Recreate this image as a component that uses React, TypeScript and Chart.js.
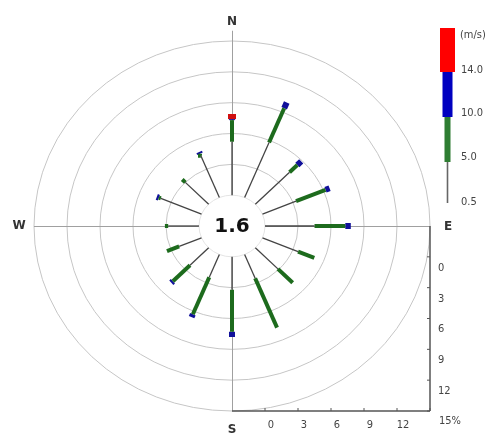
import React, { useEffect, useRef } from 'react';
import { Chart, registerables } from 'chart.js';
Chart.register(...registerables);

// 16 compass directions, clockwise from North
const directions = ['N', 'NNE', 'NE', 'ENE', 'E', 'ESE', 'SE', 'SSE', 'S', 'SSW', 'SW', 'WSW', 'W', 'WNW', 'NW', 'NNW'];
const calmPct = 1.6;
// frequency (%) per speed class
const speed05to5 = [5.2, 5.8, 4.4, 3.3, 4.5, 3.5, 2.9, 2.5, 3.2, 2.4, 2.4, 2.2, 2.8, 4.0, 3.0, 4.4];
const speed5to10 = [2.1, 3.6, 1.0, 2.9, 2.8, 1.6, 1.9, 5.2, 4.1, 3.9, 2.2, 1.2, 0.3, 0.2, 0.4, 0.2];
const speed10to14 = [0.1, 0.6, 0.5, 0.4, 0.5, 0, 0, 0, 0.5, 0.3, 0.2, 0, 0, 0.2, 0, 0.2];
const speedOver14 = [0.5, 0, 0, 0, 0, 0, 0, 0, 0, 0, 0, 0, 0, 0, 0, 0];
const ringTicks = [0, 3, 6, 9, 12, 15];
const speedBoundLabels = ['14.0', '10.0', '5.0', '0.5'];
const speedUnit = '(m/s)';

const CALM_OFFSET = 3; // calm circle radius in % units
const RMAX = 18;

const classStyles = [
  { color: '#444444', width: 1.3 },
  { color: '#1d6b1d', width: 4 },
  { color: '#10109a', width: 6 },
  { color: '#d01010', width: 8 },
];

function buildDatasets() {
  const classes = [speed05to5, speed5to10, speed10to14, speedOver14];
  const ds: any[] = [];
  directions.forEach((_, i) => {
    const th = (i * 22.5 * Math.PI) / 180;
    let cum = 0;
    classes.forEach((arr, c) => {
      const v = arr[i];
      if (v <= 0) return;
      const r0 = CALM_OFFSET + cum;
      const r1 = CALM_OFFSET + cum + v;
      cum += v;
      ds.push({
        data: [
          { x: r0 * Math.sin(th), y: r0 * Math.cos(th) },
          { x: r1 * Math.sin(th), y: r1 * Math.cos(th) },
        ],
        showLine: true,
        borderColor: classStyles[c].color,
        backgroundColor: classStyles[c].color,
        borderWidth: classStyles[c].width,
        borderCapStyle: 'butt',
        pointRadius: 0,
        pointHoverRadius: 0,
        clip: false,
      });
    });
  });
  return ds;
}

const rosePlugin = {
  id: 'rose',
  beforeDatasetsDraw(chart: any) {
    const { ctx } = chart;
    const xs = chart.scales.x;
    const ys = chart.scales.y;
    const cx = xs.getPixelForValue(0);
    const cy = ys.getPixelForValue(0);
    const rx = (v: number) => xs.getPixelForValue(v) - cx;
    const ry = (v: number) => cy - ys.getPixelForValue(v);
    ctx.save();
    ctx.strokeStyle = '#c6c6c6';
    ctx.lineWidth = 1;
    ringTicks.forEach((t) => {
      if (t === 0) return;
      const r = t + CALM_OFFSET;
      ctx.beginPath();
      ctx.ellipse(cx, cy, rx(r), ry(r), 0, 0, Math.PI * 2);
      ctx.stroke();
    });
    // cross lines
    ctx.strokeStyle = '#a0a0a0';
    ctx.beginPath();
    ctx.moveTo(xs.getPixelForValue(-RMAX), cy + 0.5);
    ctx.lineTo(xs.getPixelForValue(RMAX), cy + 0.5);
    ctx.moveTo(cx + 0.5, ys.getPixelForValue(RMAX + 1));
    ctx.lineTo(cx + 0.5, ys.getPixelForValue(-RMAX));
    ctx.stroke();
    // calm circle
    ctx.fillStyle = '#ffffff';
    ctx.strokeStyle = '#e4e4e4';
    ctx.beginPath();
    ctx.ellipse(cx, cy, rx(CALM_OFFSET), ry(CALM_OFFSET), 0, 0, Math.PI * 2);
    ctx.fill();
    ctx.stroke();
    ctx.restore();
  },
  afterDatasetsDraw(chart: any) {
    const { ctx } = chart;
    const xs = chart.scales.x;
    const ys = chart.scales.y;
    const cx = xs.getPixelForValue(0);
    const cy = ys.getPixelForValue(0);
    ctx.save();
    // calm value
    ctx.fillStyle = '#111';
    ctx.font = 'bold 20px "DejaVu Sans"';
    ctx.textAlign = 'center';
    ctx.textBaseline = 'middle';
    ctx.fillText(calmPct.toFixed(1), cx, cy + 1);
    // compass letters
    ctx.fillStyle = '#333';
    ctx.font = 'bold 12px "DejaVu Sans"';
    ctx.fillText('N', cx, ys.getPixelForValue(RMAX) - 19);
    ctx.fillText('S', cx, ys.getPixelForValue(-RMAX) + 19);
    ctx.fillText('W', xs.getPixelForValue(-RMAX) - 15, cy);
    ctx.fillText('E', xs.getPixelForValue(RMAX) + 18, cy + 1);

    // axes (percentage scales)
    const xr = xs.getPixelForValue(RMAX);
    const yb = ys.getPixelForValue(-RMAX);
    ctx.strokeStyle = '#555';
    ctx.lineWidth = 1.5;
    ctx.beginPath();
    ctx.moveTo(cx, yb);
    ctx.lineTo(xr, yb);
    ctx.moveTo(xr, cy);
    ctx.lineTo(xr, yb);
    ctx.stroke();
    ctx.lineWidth = 1;
    ctx.font = '11px "DejaVu Sans Condensed", "DejaVu Sans"';
    ctx.fillStyle = '#444';
    ringTicks.forEach((t) => {
      const px = xs.getPixelForValue(t + CALM_OFFSET);
      const py = ys.getPixelForValue(-(t + CALM_OFFSET));
      ctx.beginPath();
      ctx.moveTo(px, yb);
      ctx.lineTo(px, yb - 3);
      ctx.moveTo(xr, py);
      ctx.lineTo(xr - 3, py);
      ctx.stroke();
      if (t < 15) {
        ctx.textAlign = 'center';
        ctx.fillText(String(t), px + 6, yb + 14);
        ctx.textAlign = 'left';
        ctx.fillText(String(t), xr + 8, py + 11);
      } else {
        ctx.textAlign = 'center';
        ctx.fillText(t + '%', xr + 20, yb + 10);
      }
    });

    // speed legend bar
    const lx = 447.5;
    const segs = [
      { y0: 28, y1: 72, w: 15, color: '#ff0000' },
      { y0: 72, y1: 117, w: 10, color: '#0000c0' },
      { y0: 117, y1: 162, w: 6, color: '#2e7d32' },
      { y0: 162, y1: 203, w: 1.6, color: '#666' },
    ];
    segs.forEach((s) => {
      ctx.fillStyle = s.color;
      ctx.fillRect(lx - s.w / 2, s.y0, s.w, s.y1 - s.y0);
    });
    ctx.fillStyle = '#444';
    ctx.textAlign = 'left';
    ctx.textBaseline = 'middle';
    ctx.font = '11px "DejaVu Sans Condensed", "DejaVu Sans"';
    ctx.fillText(speedUnit, 460, 35);
    const labelYs = [70, 113, 157, 202];
    speedBoundLabels.forEach((l, i) => ctx.fillText(l, 461, labelYs[i]));
    ctx.restore();
  },
};

export default function App() {
  const ref = useRef<HTMLCanvasElement>(null);
  useEffect(() => {
    if (!ref.current) return;
    const chart = new Chart(ref.current, {
      type: 'scatter',
      data: { datasets: buildDatasets() },
      options: {
        animation: false,
        responsive: false,
        devicePixelRatio: 1,
        layout: { padding: { left: 34, right: 72, top: 41, bottom: 23 } },
        scales: {
          x: { type: 'linear', min: -RMAX, max: RMAX, display: false },
          y: { type: 'linear', min: -RMAX, max: RMAX, display: false },
        },
        plugins: { legend: { display: false }, tooltip: { enabled: false } },
        events: [],
      } as any,
      plugins: [rosePlugin],
    });
    return () => chart.destroy();
  }, []);
  return (
    <div style={{ position: 'absolute', left: 0, top: 0, width: 502, height: 434, background: '#fff' }}>
      <canvas ref={ref} width={502} height={434} style={{ display: 'block' }} />
    </div>
  );
}
